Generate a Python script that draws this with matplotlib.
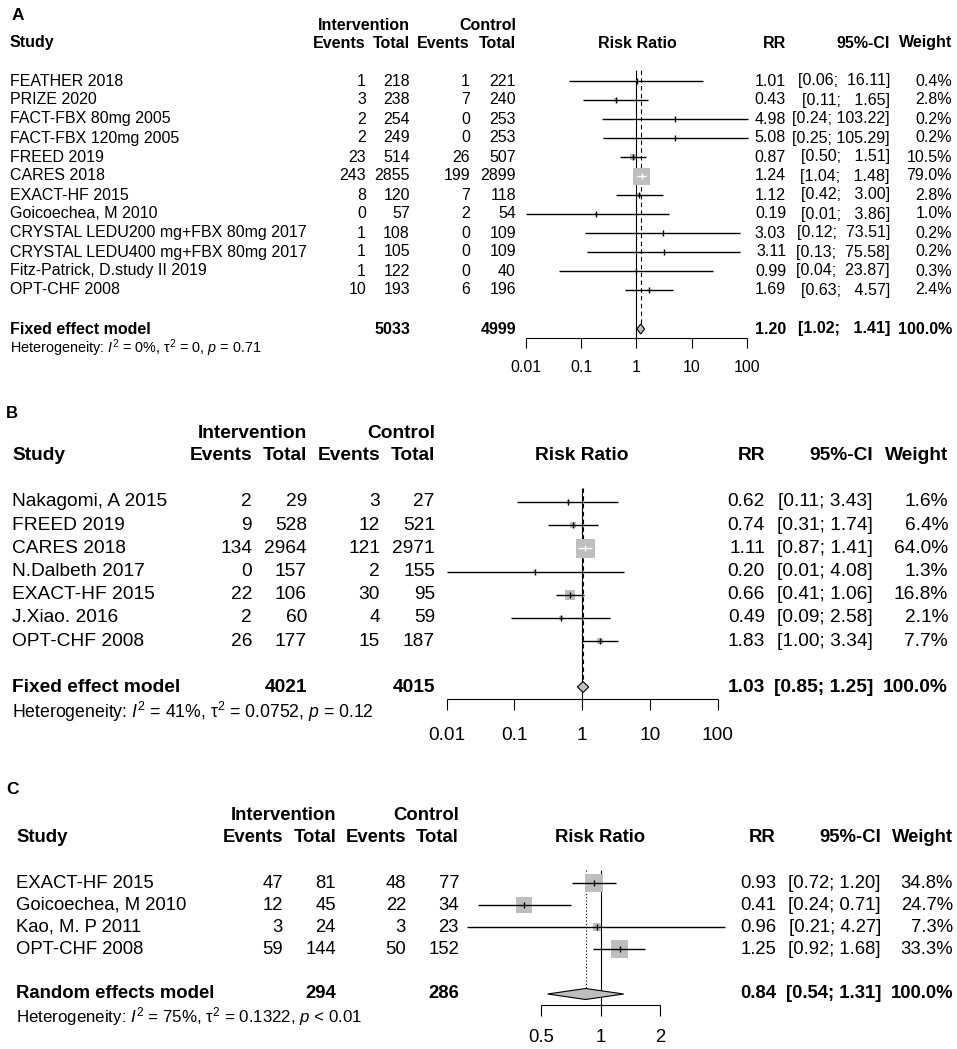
import numpy as np
import matplotlib
matplotlib.use("Agg")
import matplotlib.pyplot as plt
from matplotlib.patches import Polygon

plt.rcParams['font.family'] = ['Liberation Sans', 'DejaVu Sans']
plt.rcParams['mathtext.fontset'] = 'custom'
plt.rcParams['mathtext.rm'] = 'Liberation Sans'
plt.rcParams['mathtext.it'] = 'Liberation Sans:italic'
plt.rcParams['mathtext.bf'] = 'Liberation Sans:bold'

# ---------------- DATA ----------------
# Panel A
studies_a = ["FEATHER 2018", "PRIZE 2020", "FACT-FBX 80mg 2005", "FACT-FBX 120mg 2005",
             "FREED 2019", "CARES 2018", "EXACT-HF 2015", "Goicoechea, M 2010",
             "CRYSTAL LEDU200 mg+FBX 80mg 2017", "CRYSTAL LEDU400 mg+FBX 80mg 2017",
             "Fitz-Patrick, D.study II 2019", "OPT-CHF 2008"]
ev_int_a = [1, 3, 2, 2, 23, 243, 8, 0, 1, 1, 1, 10]
tot_int_a = [218, 238, 254, 249, 514, 2855, 120, 57, 108, 105, 122, 193]
ev_ctl_a = [1, 7, 0, 0, 26, 199, 7, 2, 0, 0, 0, 6]
tot_ctl_a = [221, 240, 253, 253, 507, 2899, 118, 54, 109, 109, 40, 196]
rr_a = [1.01, 0.43, 4.98, 5.08, 0.87, 1.24, 1.12, 0.19, 3.03, 3.11, 0.99, 1.69]
lo_a = [0.06, 0.11, 0.24, 0.25, 0.50, 1.04, 0.42, 0.01, 0.12, 0.13, 0.04, 0.63]
hi_a = [16.11, 1.65, 103.22, 105.29, 1.51, 1.48, 3.00, 3.86, 73.51, 75.58, 23.87, 4.57]
w_a = [0.4, 2.8, 0.2, 0.2, 10.5, 79.0, 2.8, 1.0, 0.2, 0.2, 0.3, 2.4]
pooled_a = dict(label="Fixed effect model", n_int=5033, n_ctl=4999, rr=1.20, lo=1.02, hi=1.41, w=100.0,
                het=r"Heterogeneity: $I^2$ = 0%, τ$^2$ = 0, $p$ = 0.71")
ticks_a = [0.01, 0.1, 1, 10, 100]
ticklabels_a = ["0.01", "0.1", "1", "10", "100"]

# Panel B
studies_b = ["Nakagomi, A 2015", "FREED 2019", "CARES 2018", "N.Dalbeth 2017",
             "EXACT-HF 2015", "J.Xiao. 2016", "OPT-CHF 2008"]
ev_int_b = [2, 9, 134, 0, 22, 2, 26]
tot_int_b = [29, 528, 2964, 157, 106, 60, 177]
ev_ctl_b = [3, 12, 121, 2, 30, 4, 15]
tot_ctl_b = [27, 521, 2971, 155, 95, 59, 187]
rr_b = [0.62, 0.74, 1.11, 0.20, 0.66, 0.49, 1.83]
lo_b = [0.11, 0.31, 0.87, 0.01, 0.41, 0.09, 1.00]
hi_b = [3.43, 1.74, 1.41, 4.08, 1.06, 2.58, 3.34]
w_b = [1.6, 6.4, 64.0, 1.3, 16.8, 2.1, 7.7]
pooled_b = dict(label="Fixed effect model", n_int=4021, n_ctl=4015, rr=1.03, lo=0.85, hi=1.25, w=100.0,
                het=r"Heterogeneity: $I^2$ = 41%, τ$^2$ = 0.0752, $p$ = 0.12")
ticks_b = [0.01, 0.1, 1, 10, 100]
ticklabels_b = ["0.01", "0.1", "1", "10", "100"]

# Panel C
studies_c = ["EXACT-HF 2015", "Goicoechea, M 2010", "Kao, M. P 2011", "OPT-CHF 2008"]
ev_int_c = [47, 12, 3, 59]
tot_int_c = [81, 45, 24, 144]
ev_ctl_c = [48, 22, 3, 50]
tot_ctl_c = [77, 34, 23, 152]
rr_c = [0.93, 0.41, 0.96, 1.25]
lo_c = [0.72, 0.24, 0.21, 0.92]
hi_c = [1.20, 0.71, 4.27, 1.68]
w_c = [34.8, 24.7, 7.3, 33.3]
pooled_c = dict(label="Random effects model", n_int=294, n_ctl=286, rr=0.84, lo=0.54, hi=1.31, w=100.0,
                het=r"Heterogeneity: $I^2$ = 75%, τ$^2$ = 0.1322, $p$ < 0.01")
ticks_c = [0.5, 1, 2]
ticklabels_c = ["0.5", "1", "2"]

# ---------------- LAYOUT ----------------
W, H = 957, 1049
DPI = 100
GRAY = '#BEBEBE'

fig = plt.figure(figsize=(W / DPI, H / DPI), dpi=DPI)
bg = fig.add_axes([0, 0, 1, 1])
bg.set_xlim(0, W)
bg.set_ylim(H, 0)
bg.axis('off')


def draw_panel(letter, L, studies, ei, ti, ec, tc, rr, lo, hi, w, pooled, ticks, ticklabels):
    fs = L['fs']
    n = len(studies)
    ys = L['row0'] + L['dy'] * np.arange(n)

    def T(x, y, s, ha='left', bold=False, size=None):
        bg.text(x, y, s, ha=ha, va='center', fontsize=size or fs,
                fontweight='bold' if bold else 'normal')

    # labels / headers
    T(L['lab_x'], L['lab_y'], letter, bold=True, size=L['lab_fs'])
    T(L['it_x'], L['h1'], "Intervention", ha='right', bold=True)
    T(L['ct_x'], L['h1'], "Control", ha='right', bold=True)
    T(L['study_x'], L['h2'], "Study", bold=True)
    T(L['ie_x'], L['h2'], "Events", ha='right', bold=True)
    T(L['it_x'], L['h2'], "Total", ha='right', bold=True)
    T(L['ce_x'], L['h2'], "Events", ha='right', bold=True)
    T(L['ct_x'], L['h2'], "Total", ha='right', bold=True)
    T(L['rrh_x'], L['h2'], "Risk Ratio", ha='center', bold=True)
    T(L['rr_x'], L['h2'], "RR", ha='right', bold=True)
    T(L['ci_x'], L['h2'], "95%-CI", ha='right', bold=True)
    T(L['w_x'], L['h2'], "Weight", ha='right', bold=True)

    # CI strings padded like R meta
    los = [f"{v:.2f}" for v in list(lo) + [pooled['lo']]]
    his = [f"{v:.2f}" for v in list(hi) + [pooled['hi']]]
    wl = max(len(s) for s in los)
    wh = max(len(s) for s in his)
    cis = [f"[{a:>{wl}}; {b:>{wh}}]" for a, b in zip(los, his)]

    for i in range(n):
        y = ys[i]
        T(L['study_x'], y, studies[i])
        T(L['ie_x'], y, str(ei[i]), ha='right')
        T(L['it_x'], y, str(ti[i]), ha='right')
        T(L['ce_x'], y, str(ec[i]), ha='right')
        T(L['ct_x'], y, str(tc[i]), ha='right')
        T(L['rr_x'], y, f"{rr[i]:.2f}", ha='right')
        T(L['ci_x'], y, cis[i], ha='right')
        T(L['w_x'], y, f"{w[i]:.1f}%", ha='right')

    py = L['pooled_y']
    T(L['study_x'], py, pooled['label'], bold=True)
    T(L['it_x'], py, str(pooled['n_int']), ha='right', bold=True)
    T(L['ct_x'], py, str(pooled['n_ctl']), ha='right', bold=True)
    T(L['rr_x'], py, f"{pooled['rr']:.2f}", ha='right', bold=True)
    T(L['ci_x'], py, cis[-1], ha='right', bold=True)
    T(L['w_x'], py, f"{pooled['w']:.1f}%", ha='right', bold=True)
    T(L['study_x'], L['het_y'], pooled['het'], size=L['het_fs'])

    # forest axes
    tmin, tmax = ticks[0], ticks[-1]
    x0, x1 = L['x0px'], L['x1px']
    ax = fig.add_axes([x0 / W, 0, (x1 - x0) / W, 1])
    ax.set_xscale('log')
    ax.set_xlim(tmin, tmax)
    ax.set_ylim(H, 0)
    ax.axis('off')
    ax.patch.set_alpha(0)
    ppd = (x1 - x0) / np.log10(tmax / tmin)

    top = ys[0] - 0.6 * L['dy']
    ay = L['axis_y']
    ax.vlines(1, top, ay, colors='k', lw=0.8, zorder=1, clip_on=False)
    ax.vlines(pooled['rr'], top, py - L['dh'], colors='k', lw=0.8,
              linestyles=L['ref_ls'], zorder=1, clip_on=False)

    w_arr = np.array(w, dtype=float)
    side = L['sq_max'] * np.sqrt(w_arr / w_arr.max())
    ax.scatter(rr, ys, s=(side * 72 / DPI) ** 2, marker='s', c=GRAY,
               linewidths=0, zorder=3, clip_on=False)
    ext = np.log10(np.array(hi) / np.array(lo)) * ppd
    cols = ['white' if e < s else 'black' for e, s in zip(ext, side)]
    ax.hlines(ys, lo, hi, colors=cols, lw=1.0, zorder=4, clip_on=False)
    ax.scatter(rr, ys, s=(L['tick_px'] * 72 / DPI) ** 2, marker='|', c=cols,
               linewidths=1.0, zorder=5, clip_on=False)

    dh = L['dh']
    dia = Polygon([(pooled['lo'], py), (pooled['rr'], py - dh), (pooled['hi'], py),
                   (pooled['rr'], py + dh)], closed=True, fc=GRAY, ec='k', lw=0.8,
                  zorder=6, clip_on=False)
    ax.add_patch(dia)

    ax.hlines(ay, tmin, tmax, colors='k', lw=0.8, clip_on=False)
    ax.vlines(ticks, ay, ay + L['tick_len'], colors='k', lw=0.8, clip_on=False)
    for t, s in zip(ticks, ticklabels):
        ax.text(t, L['tl_y'], s, ha='center', va='center', fontsize=L['tl_fs'], clip_on=False)


LA = dict(fs=11.5, lab_fs=12.5, lab_x=12, lab_y=15, h1=25, h2=43, row0=81, dy=19,
          pooled_y=329, het_y=348, het_fs=10.4, axis_y=338, tick_len=10, tl_y=367, tl_fs=11.5,
          study_x=10, ie_x=366, it_x=410, ce_x=470, ct_x=516, rrh_x=637, rr_x=786, ci_x=890, w_x=952,
          x0px=525.7, x1px=747.0, sq_max=17, tick_px=6, dh=5, ref_ls=(0, (4, 3)))
LB = dict(fs=13.8, lab_fs=12, lab_x=6, lab_y=413, h1=433, h2=456, row0=502, dy=23.2,
          pooled_y=687, het_y=712, het_fs=12.7, axis_y=699, tick_len=11, tl_y=735, tl_fs=13.8,
          study_x=12, ie_x=252, it_x=307, ce_x=380, ct_x=435, rrh_x=582, rr_x=765, ci_x=873, w_x=948,
          x0px=446.7, x1px=717.7, sq_max=19, tick_px=6, dh=5.5, ref_ls=(0, (4, 3)))
LC = dict(fs=13.3, lab_fs=12.5, lab_x=6, lab_y=790, h1=816, h2=838, row0=883, dy=22,
          pooled_y=994, het_y=1017, het_fs=12.2, axis_y=1005, tick_len=11, tl_y=1038, tl_fs=13.3,
          study_x=16, ie_x=283, it_x=336, ce_x=406, ct_x=459, rrh_x=600, rr_x=776, ci_x=881, w_x=953,
          x0px=541, x1px=660, sq_max=18, tick_px=6, dh=5.5, ref_ls=(0, (1, 2)))

draw_panel("A", LA, studies_a, ev_int_a, tot_int_a, ev_ctl_a, tot_ctl_a, rr_a, lo_a, hi_a, w_a,
           pooled_a, ticks_a, ticklabels_a)
draw_panel("B", LB, studies_b, ev_int_b, tot_int_b, ev_ctl_b, tot_ctl_b, rr_b, lo_b, hi_b, w_b,
           pooled_b, ticks_b, ticklabels_b)
draw_panel("C", LC, studies_c, ev_int_c, tot_int_c, ev_ctl_c, tot_ctl_c, rr_c, lo_c, hi_c, w_c,
           pooled_c, ticks_c, ticklabels_c)

fig.savefig("out.png", dpi=DPI)
